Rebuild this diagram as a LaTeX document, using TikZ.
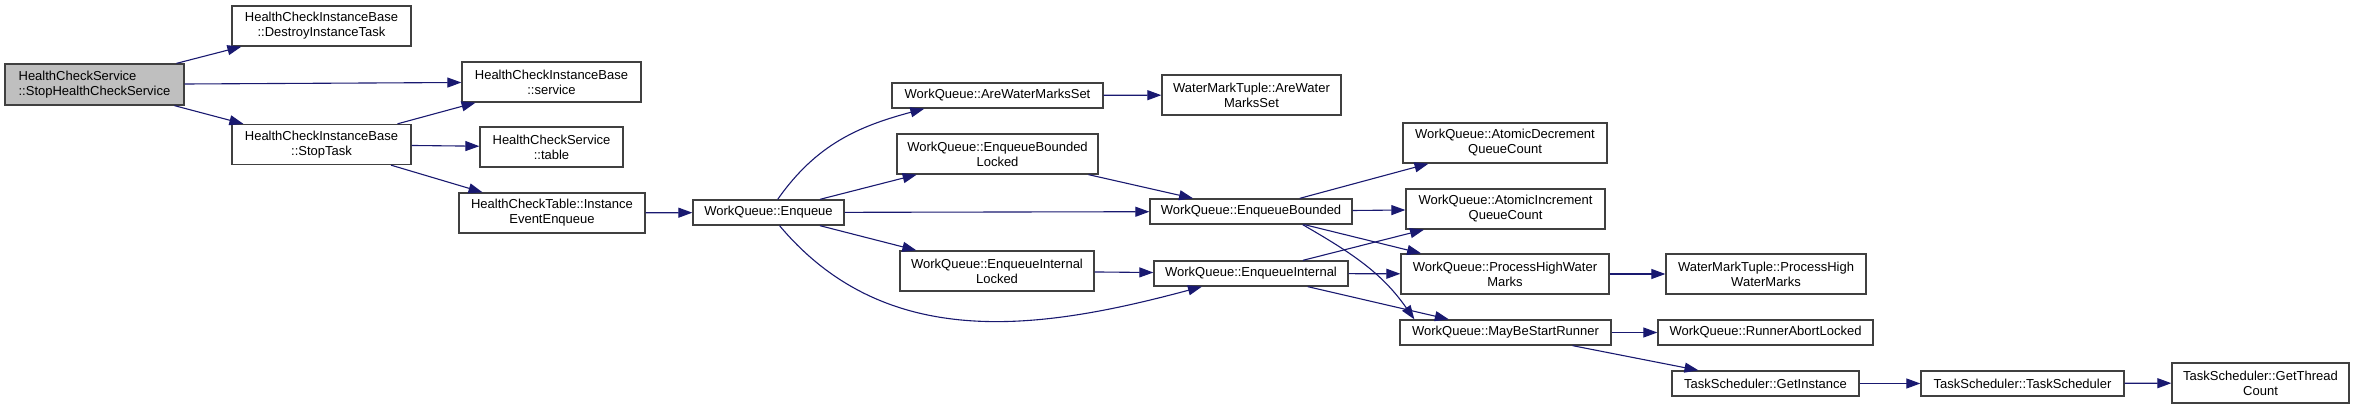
\documentclass[tikz,border=0pt]{standalone}
\usepackage{fontspec}
\setmainfont{Liberation Sans}
\usetikzlibrary{arrows.meta}
\definecolor{dxblue}{HTML}{191970}
\definecolor{dxframe}{HTML}{404040}
\definecolor{dxroot}{HTML}{BFBFBF}
\newcommand{\dxfont}{\fontsize{13}{15}\selectfont}

\begin{document}
\begin{tikzpicture}[x=1pt,y=1pt,
  fn/.style={draw=dxframe,line width=1.3pt,fill=white,font=\dxfont,align=center,inner sep=0pt},
  rootfn/.style={fn,fill=dxroot,align=left},
  call/.style={draw=dxblue,line width=1.1pt,-{Triangle[length=14pt,width=10pt]}}
]
\useasboundingbox (0,0) rectangle (2355,409);
\node[rootfn,minimum width=179pt,minimum height=41pt] (stophcs) at (94.5,324.5) {HealthCheckService\\::StopHealthCheckService};
\node[fn,minimum width=179pt,minimum height=40pt] (destroy) at (321.5,383) {HealthCheckInstanceBase\\::DestroyInstanceTask};
\node[fn,minimum width=179pt,minimum height=40pt] (stoptask) at (321.5,264.5) {HealthCheckInstanceBase\\::StopTask};
\node[fn,minimum width=179pt,minimum height=40pt] (service) at (551.5,327) {HealthCheckInstanceBase\\::service};
\node[fn,minimum width=143pt,minimum height=40pt] (table) at (551.5,262) {HealthCheckService\\::table};
\node[fn,minimum width=186pt,minimum height=40pt] (iee) at (552,196) {HealthCheckTable::Instance\\EventEnqueue};
\node[fn,minimum width=151pt,minimum height=25pt] (enqueue) at (768.5,196.5) {WorkQueue::Enqueue};
\node[fn,minimum width=211pt,minimum height=25pt] (awms) at (997.5,313.5) {WorkQueue::AreWaterMarksSet};
\node[fn,minimum width=201pt,minimum height=40pt] (ebl) at (997.5,255) {WorkQueue::EnqueueBounded\\Locked};
\node[fn,minimum width=194pt,minimum height=40pt] (eil) at (997,138) {WorkQueue::EnqueueInternal\\Locked};
\node[fn,minimum width=179pt,minimum height=40pt] (wmtaw) at (1251.5,314) {WaterMarkTuple::AreWater\\MarksSet};
\node[fn,minimum width=202pt,minimum height=25pt] (eb) at (1251,197.5) {WorkQueue::EnqueueBounded};
\node[fn,minimum width=194pt,minimum height=25pt] (ei) at (1251,135.5) {WorkQueue::EnqueueInternal};
\node[fn,minimum width=204pt,minimum height=40pt] (adqc) at (1505,266) {WorkQueue::AtomicDecrement\\QueueCount};
\node[fn,minimum width=199pt,minimum height=40pt] (aiqc) at (1505.5,200) {WorkQueue::AtomicIncrement\\QueueCount};
\node[fn,minimum width=208pt,minimum height=40pt] (phwm) at (1505,135) {WorkQueue::ProcessHighWater\\Marks};
\node[fn,minimum width=211pt,minimum height=25pt] (mbsr) at (1505.5,76.5) {WorkQueue::MayBeStartRunner};
\node[fn,minimum width=200pt,minimum height=40pt] (wmtph) at (1766,135) {WaterMarkTuple::ProcessHigh\\WaterMarks};
\node[fn,minimum width=215pt,minimum height=25pt] (ral) at (1765.5,76.5) {WorkQueue::RunnerAbortLocked};
\node[fn,minimum width=187pt,minimum height=25pt] (getinst) at (1765.5,25.5) {TaskScheduler::GetInstance};
\node[fn,minimum width=203pt,minimum height=25pt] (tsched) at (2022.5,25.5) {TaskScheduler::TaskScheduler};
\node[fn,minimum width=177pt,minimum height=40pt] (gtc) at (2260.5,26) {TaskScheduler::GetThread\\Count};
\draw[call] (stophcs) -- (destroy);
\draw[call] (stophcs) -- (service);
\draw[call] (stophcs) -- (stoptask);
\draw[call] (stoptask) -- (service);
\draw[call] (stoptask) -- (table);
\draw[call] (stoptask) -- (iee);
\draw[call] (iee) -- (enqueue);
\draw[call] (enqueue) to[out=55,in=195] ([xshift=33pt]awms.south west);
\draw[call] (enqueue) -- (ebl);
\draw[call] (enqueue) -- (eb);
\draw[call] (enqueue) -- (eil);
\draw[call] (enqueue) to[out=-50,in=195] (ei);
\draw[call] (awms) -- (wmtaw);
\draw[call] (ebl) -- (eb);
\draw[call] (eil) -- (ei);
\draw[call] (eb) -- (adqc);
\draw[call] (eb) -- (aiqc);
\draw[call] (eb) -- (phwm);
\draw[call] ([xshift=-50pt]eb.south east) to[out=-30,in=125] ([xshift=15pt]mbsr.north west);
\draw[call] (ei) -- (aiqc);
\draw[call] (ei) -- (phwm);
\draw[call] (ei) -- (mbsr);
\draw[call] (phwm) -- (wmtph);
\draw[call] (mbsr) -- (ral);
\draw[call] (mbsr) -- (getinst);
\draw[call] (getinst) -- (tsched);
\draw[call] (tsched) -- (gtc);
\end{tikzpicture}
\end{document}
